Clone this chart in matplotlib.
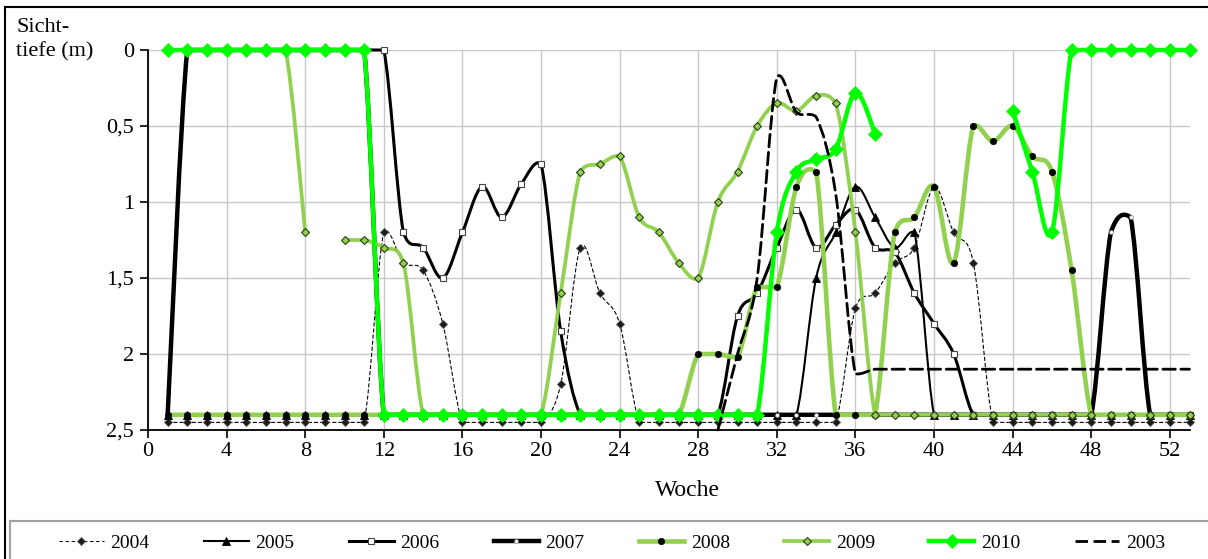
import numpy as np
import matplotlib
matplotlib.use("Agg")
import matplotlib.pyplot as plt
from matplotlib.path import Path
from matplotlib.patches import PathPatch
from matplotlib.lines import Line2D

nan = float("nan")

# ---------------- data (Woche 1..53, Sichttiefe in m) ----------------
weeks = list(range(1, 54))

s2004 = [2.45, 2.45, 2.45, 2.45, 2.45, 2.45, 2.45, 2.45, 2.45, 2.45, 2.45,   # 1-11
         1.2, 1.4, 1.45, 1.8,                                                # 12-15
         2.45, 2.45, 2.45, 2.45, 2.45,                                       # 16-20
         2.2, 1.3, 1.6, 1.8,                                                 # 21-24
         2.45, 2.45, 2.45, 2.45, 2.45, 2.45, 2.45, 2.45, 2.45, 2.45, 2.45,   # 25-35
         1.7, 1.6, 1.4, 1.3, 0.9, 1.2, 1.4,                                  # 36-42
         2.45, 2.45, 2.45, 2.45, 2.45, 2.45, 2.45, 2.45, 2.45, 2.45, 2.45]   # 43-53

s2005 = [2.4, 2.4, 2.4, 2.4, 2.4, 2.4, 2.4, 2.4, 2.4, 2.4,                   # 1-10
         2.4, 2.4, 2.4, 2.4, 2.4, 2.4, 2.4, 2.4, 2.4, 2.4,                   # 11-20
         2.4, 2.4, 2.4, 2.4, 2.4, 2.4, 2.4, 2.4, 2.4, 2.4,                   # 21-30
         2.4, 2.4, 2.4, 1.5, 1.2, 0.9, 1.1, 1.3, 1.2, 2.4,                   # 31-40
         2.4, 2.4, 2.4, 2.4, 2.4, 2.4, 2.4, 2.4, 2.4, 2.4,                   # 41-50
         2.4, 2.4, 2.4]                                                      # 51-53

s2006 = [0, 0, 0, 0, 0, 0, 0, 0, 0, 0,                                       # 1-10
         0, 0, 1.2, 1.3, 1.5, 1.2, 0.9, 1.1, 0.88, 0.75,                     # 11-20
         1.85, 2.4, 2.4, 2.4, 2.4, 2.4, 2.4, 2.4, 2.4, 1.75,                 # 21-30
         1.6, 1.3, 1.05, 1.3, 1.15, 1.05, 1.3, 1.33, 1.6, 1.8,               # 31-40
         2.0, 2.4, 2.4, 2.4, 2.4, 2.4, 2.4, 2.4, 2.4, 2.4,                   # 41-50
         2.4, 2.4, 2.4]                                                      # 51-53

s2007 = [2.4, 0, 0, 0, 0, 0, 0, 0, 0, 0,                                     # 1-10
         0, 2.4, 2.4, 2.4, 2.4, 2.4, 2.4, 2.4, 2.4, 2.4,                     # 11-20
         2.4, 2.4, 2.4, 2.4, 2.4, 2.4, 2.4, 2.4, 2.4, 2.4,                   # 21-30
         2.4, 2.4, 2.4, 2.4, 2.4, 2.4, 2.4, 2.4, 2.4, 2.4,                   # 31-40
         2.4, 2.4, 2.4, 2.4, 2.4, 2.4, 2.4, 2.4, 1.2, 1.1,                   # 41-50
         2.4, 2.4, 2.4]                                                      # 51-53

s2008 = [2.4, 2.4, 2.4, 2.4, 2.4, 2.4, 2.4, 2.4, 2.4, 2.4,                   # 1-10
         2.4, 2.4, 2.4, 2.4, 2.4, 2.4, 2.4, 2.4, 2.4, 2.4,                   # 11-20
         2.4, 2.4, 2.4, 2.4, 2.4, 2.4, 2.4, 2.0, 2.0, 2.02,                  # 21-30
         1.56, 1.56, 0.9, 0.8, 2.4, 2.4, 2.4, 1.2, 1.1, 0.9,                 # 31-40
         1.4, 0.5, 0.6, 0.5, 0.7, 0.8, 1.45, 2.4, 2.4, 2.4,                  # 41-50
         2.4, 2.4, 2.4]                                                      # 51-53

s2009 = [0, 0, 0, 0, 0, 0, 0, 1.2, nan, 1.25,                                # 1-10
         1.25, 1.3, 1.4, 2.4, 2.4, 2.4, 2.4, 2.4, 2.4, 2.4,                  # 11-20
         1.6, 0.8, 0.75, 0.7, 1.1, 1.2, 1.4, 1.5, 1.0, 0.8,                  # 21-30
         0.5, 0.35, 0.4, 0.3, 0.35, 1.2, 2.4, 2.4, 2.4, 2.4,                 # 31-40
         2.4, 2.4, 2.4, 2.4, 2.4, 2.4, 2.4, 2.4, 2.4, 2.4,                   # 41-50
         2.4, 2.4, 2.4]                                                      # 51-53

s2010 = [0, 0, 0, 0, 0, 0, 0, 0, 0, 0,                                       # 1-10
         0, 2.4, 2.4, 2.4, 2.4, 2.4, 2.4, 2.4, 2.4, 2.4,                     # 11-20
         2.4, 2.4, 2.4, 2.4, 2.4, 2.4, 2.4, 2.4, 2.4, 2.4,                   # 21-30
         2.4, 1.2, 0.8, 0.72, 0.65, 0.28, 0.55, nan, nan, nan,               # 31-40
         nan, nan, nan, 0.4, 0.8, 1.2, 0, 0, 0, 0,                           # 41-50
         0, 0, 0]                                                            # 51-53

s2003 = [nan, nan, nan, nan, nan, nan, nan, nan, nan, nan,                   # 1-10
         nan, nan, nan, nan, nan, nan, nan, nan, nan, nan,                   # 11-20
         nan, nan, nan, nan, nan, nan, nan, nan, 2.5, 2.0,                   # 21-30
         1.5, 0.18, 0.41, 0.44, 0.95, 2.13, 2.1, 2.1, 2.1, 2.1,              # 31-40
         2.1, 2.1, 2.1, 2.1, 2.1, 2.1, 2.1, 2.1, 2.1, 2.1,                   # 41-50
         2.1, 2.1, 2.1]                                                      # 51-53

x_ticks = [0, 4, 8, 12, 16, 20, 24, 28, 32, 36, 40, 44, 48, 52]
y_ticks = [0, 0.5, 1, 1.5, 2, 2.5]
y_tick_labels = ["0", "0,5", "1", "1,5", "2", "2,5"]

# ---------------- styles ----------------
LG = "#92D050"
BG = "#00FF00"
SERIF = ["Liberation Serif", "DejaVu Serif"]

styles = [
    dict(label="2004", y=s2004, color="black", lw=0.8, ls=(0, (3, 2.5)),
         marker="D", ms=4.2, mfc="#1a1a1a", mec="#555555", mew=0.6),
    dict(label="2005", y=s2005, color="black", lw=1.5, ls="-",
         marker="^", ms=5.5, mfc="black", mec="black", mew=0.6),
    dict(label="2006", y=s2006, color="black", lw=2.2, ls="-",
         marker="s", ms=4.3, mfc="white", mec="#444444", mew=0.8),
    dict(label="2007", y=s2007, color="black", lw=3.2, ls="-",
         marker="o", ms=2.8, mfc="white", mec="#888888", mew=0.5),
    dict(label="2008", y=s2008, color=LG, lw=3.3, ls="-",
         marker="o", ms=4.6, mfc="black", mec="black", mew=0.5),
    dict(label="2009", y=s2009, color=LG, lw=2.7, ls="-",
         marker="D", ms=3.8, mfc=LG, mec="#2b3d14", mew=0.8),
    dict(label="2010", y=s2010, color=BG, lw=3.2, ls="-",
         marker="D", ms=7.0, mfc=BG, mec=BG, mew=0.5),
    dict(label="2003", y=s2003, color="black", lw=2.0, ls=(0, (4.5, 2.0)),
         marker=None, ms=0, mfc="none", mec="none", mew=0),
]


def smooth_paths(xs, ys):
    """Smoothed line (cubic Bezier through the data points, limited overshoot)."""
    xs = np.asarray(xs, float)
    ys = np.asarray(ys, float)
    ok = ~np.isnan(ys)
    paths = []
    i = 0
    n = len(xs)
    while i < n:
        if not ok[i]:
            i += 1
            continue
        j = i
        while j + 1 < n and ok[j + 1]:
            j += 1
        rx, ry = xs[i:j + 1], ys[i:j + 1]
        m = len(rx)
        if m >= 2:
            verts = [(rx[0], ry[0])]
            codes = [Path.MOVETO]
            for k in range(m - 1):
                x0, y0 = (rx[k - 1], ry[k - 1]) if k > 0 else (rx[k], ry[k])
                x1, y1 = rx[k], ry[k]
                x2, y2 = rx[k + 1], ry[k + 1]
                x3, y3 = (rx[k + 2], ry[k + 2]) if k + 2 < m else (x2, y2)
                slack = 0.3 * abs(y2 - y1)
                lo, hi = min(y1, y2) - slack, max(y1, y2) + slack
                c1 = (x1 + (x2 - x0) / 6.0, min(max(y1 + (y2 - y0) / 6.0, lo), hi))
                c2 = (x2 - (x3 - x1) / 6.0, min(max(y2 - (y3 - y1) / 6.0, lo), hi))
                verts += [c1, c2, (x2, y2)]
                codes += [Path.CURVE4] * 3
            paths.append(Path(verts, codes))
        i = j + 1
    return paths


W, H = 1208, 559
fig = plt.figure(figsize=(W / 100, H / 100), dpi=100)
ax = fig.add_axes([148 / W, 1 - 430 / H, (1189.5 - 148) / W, 380 / H])

for z, st in enumerate(styles):
    zo = 2 + z
    for p in smooth_paths(weeks, st["y"]):
        patch = PathPatch(p, facecolor="none", edgecolor=st["color"], lw=st["lw"],
                          linestyle=st["ls"], zorder=zo, capstyle="round",
                          joinstyle="round", clip_on=False)
        ax.add_patch(patch)
    if st["marker"]:
        ax.plot(weeks, st["y"], ls="none", marker=st["marker"], ms=st["ms"],
                mfc=st["mfc"], mec=st["mec"], mew=st["mew"], zorder=zo + 0.5,
                clip_on=False)

ax.set_xlim(0, 53)
ax.set_ylim(2.5, 0)
ax.set_xticks(x_ticks)
ax.set_yticks(y_ticks)
ax.set_yticklabels(y_tick_labels)
ax.grid(True, color="#c8c8c8", lw=1.0)
ax.set_axisbelow(True)
for s in ["top", "right"]:
    ax.spines[s].set_visible(False)
for s in ["left", "bottom"]:
    ax.spines[s].set_color("black")
    ax.spines[s].set_linewidth(1.3)
ax.tick_params(axis="both", direction="out", length=6, width=1.2, color="black",
               labelsize=16)
ax.tick_params(axis="x", pad=3)
ax.tick_params(axis="y", pad=4)
for lab in ax.get_xticklabels() + ax.get_yticklabels():
    lab.set_family(SERIF)

# axis texts
fig.text(16 / W, 1 - 32 / H, "Sicht-", family=SERIF, fontsize=16, ha="left", va="baseline")
fig.text(16 / W, 1 - 56 / H, "tiefe (m)", family=SERIF, fontsize=16, ha="left", va="baseline")
fig.text(687 / W, 1 - 490 / H, "Woche", family=SERIF, fontsize=17, ha="center", va="center")

# outer border and legend box
fig.add_artist(Line2D([5 / W, 1], [1 - 7 / H, 1 - 7 / H], transform=fig.transFigure,
                      color="black", lw=1.5))
fig.add_artist(Line2D([5 / W, 5 / W], [0, 1 - 7 / H], transform=fig.transFigure,
                      color="black", lw=1.5))
fig.add_artist(Line2D([10 / W, 1], [1 - 521 / H, 1 - 521 / H], transform=fig.transFigure,
                      color="#a0a0a0", lw=1.5))
fig.add_artist(Line2D([10 / W, 10 / W], [0, 1 - 521 / H], transform=fig.transFigure,
                      color="#a0a0a0", lw=1.5))

handles = []
labels = []
for st in styles:
    h = Line2D([], [], color=st["color"], lw=st["lw"], ls=st["ls"],
               marker=st["marker"] if st["marker"] else None, ms=st["ms"],
               mfc=st["mfc"], mec=st["mec"], mew=st["mew"])
    handles.append(h)
    labels.append(st["label"])

fig.legend(handles, labels, loc="center", bbox_to_anchor=(612 / W, 1 - 543 / H),
           ncol=8, frameon=False, prop={"family": SERIF, "size": 14},
           handlelength=2.3, handletextpad=0.35, columnspacing=2.8)

fig.savefig("out.png", dpi=100)
